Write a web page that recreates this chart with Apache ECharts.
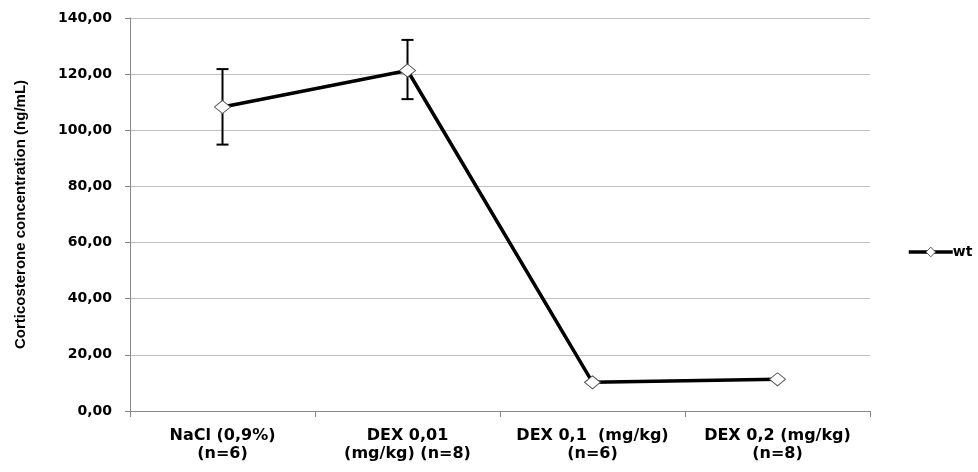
<!DOCTYPE html>
<html>
<head>
<meta charset="utf-8">
<script src="https://cdn.jsdelivr.net/npm/echarts@6/dist/echarts.min.js"></script>
<style>html,body{margin:0;padding:0;background:#fff;}#c{width:978px;height:472px;}</style>
</head>
<body>
<div id="c"></div>
<script>
const categories = ['NaCl (0,9%)\n(n=6)', 'DEX 0,01\n(mg/kg) (n=8)', 'DEX 0,1  (mg/kg)\n(n=6)', 'DEX 0,2 (mg/kg)\n(n=8)'];
const seriesName = 'wt';
const meanValues = [108.3, 121.3, 10.2, 11.3];
const errLow = [94.9, 111.1, null, null];
const errHigh = [121.8, 132.2, null, null];
const yTicks = [0, 20, 40, 60, 80, 100, 120, 140];

const chart = echarts.init(document.getElementById('c'), null, {renderer: 'canvas'});
const errData = categories.map((c, i) => [i, errLow[i], errHigh[i]]).filter(d => d[1] != null);

chart.setOption({
  animation: false,
  backgroundColor: '#fff',
  grid: {left: 130, right: 108, top: 18, bottom: 61},
  legend: {
    data: [{name: seriesName}],
    left: 902, top: 240,
    itemWidth: 44, itemHeight: 12, itemGap: 2,
    itemStyle: {color: '#fff', borderColor: '#555', borderWidth: 1},
    lineStyle: {color: '#000', width: 3.5},
    textStyle: {fontFamily: 'DejaVu Sans', fontWeight: 'bold', fontSize: 14, color: '#000', padding: [0, 0, 0, -5]}
  },
  xAxis: {
    type: 'category',
    data: categories,
    boundaryGap: true,
    axisLine: {lineStyle: {color: '#888', width: 1}},
    axisTick: {show: true, length: 6, lineStyle: {color: '#888'}},
    axisLabel: {interval: 0, margin: 16, color: '#000', fontFamily: 'DejaVu Sans', fontWeight: 'bold', fontSize: 16, lineHeight: 18}
  },
  yAxis: {
    type: 'value',
    min: yTicks[0], max: yTicks[yTicks.length - 1], interval: 20,
    name: 'Corticosterone concentration (ng/mL)',
    nameLocation: 'middle', nameGap: 102, nameRotate: 90,
    nameTextStyle: {fontFamily: 'Liberation Sans', fontWeight: 'bold', fontSize: 15, color: '#000'},
    axisLine: {show: true, lineStyle: {color: '#888', width: 1}},
    axisTick: {show: true, length: 5, lineStyle: {color: '#888'}},
    splitLine: {lineStyle: {color: '#bfbfbf', width: 1}},
    axisLabel: {margin: 18, color: '#000', fontFamily: 'DejaVu Sans', fontWeight: 'bold', fontSize: 14,
      formatter: v => v.toFixed(2).replace('.', ',')}
  },
  series: [
    {
      type: 'custom',
      name: 'err',
      z: 3,
      data: errData,
      renderItem: function (params, api) {
        const x = api.value(0);
        const lo = api.coord([x, api.value(1)]);
        const hi = api.coord([x, api.value(2)]);
        const hw = 6;
        const style = {stroke: '#000', lineWidth: 2};
        return {
          type: 'group',
          children: [
            {type: 'line', shape: {x1: lo[0], y1: lo[1], x2: hi[0], y2: hi[1]}, style: style},
            {type: 'line', shape: {x1: hi[0] - hw, y1: hi[1], x2: hi[0] + hw, y2: hi[1]}, style: style},
            {type: 'line', shape: {x1: lo[0] - hw, y1: lo[1], x2: lo[0] + hw, y2: lo[1]}, style: style}
          ]
        };
      }
    },
    {
      type: 'line',
      name: seriesName,
      z: 5,
      data: meanValues,
      symbol: 'diamond',
      symbolSize: [16, 13],
      showSymbol: true,
      lineStyle: {color: '#000', width: 3.5},
      itemStyle: {color: '#fff', borderColor: '#555', borderWidth: 1},
      emphasis: {disabled: true}
    }
  ]
});
</script>
</body>
</html>
